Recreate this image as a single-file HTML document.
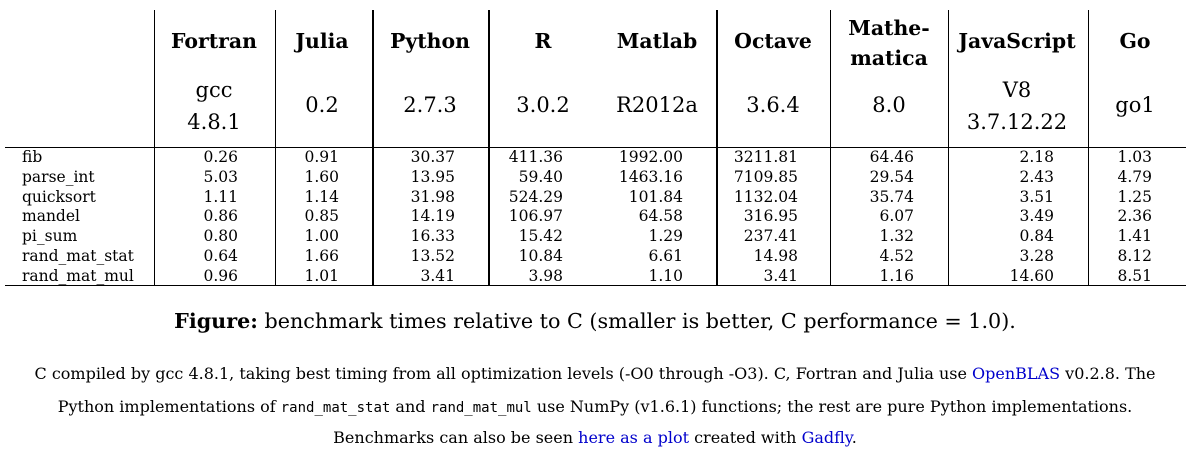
<!DOCTYPE html>
<html><head><meta charset="utf-8">
<style>
body{margin:0;width:1190px;height:452px;background:#fff;position:relative;overflow:hidden;font-family:"DejaVu Serif","Liberation Serif",serif;color:#000}
.a{position:absolute;white-space:nowrap}
.hd{font-weight:bold;font-size:20.4px;text-align:center;transform:translateX(-50%);line-height:30px}
.ver{font-size:21px;text-align:center;transform:translateX(-50%);line-height:32px}
.cell{font-size:15.5px;line-height:20px}
.v{text-align:right;transform:translateX(-100%)}
.vl{position:absolute;top:10px;height:276px;background:#000}
.hl{position:absolute;left:5px;width:1181px;height:1px;background:#000}
.p{font-size:16px;left:0;width:1190px;text-align:center}
.m{font-family:"DejaVu Sans Mono","Liberation Mono",monospace;font-size:14px}
a{color:#00c;text-decoration:none}
</style></head><body>
<div id="tbl"></div>
<div class="hl" style="top:147px"></div>
<div class="hl" style="top:285px"></div>
<div class="a p" style="top:309px;font-size:20.7px"><b>Figure:</b> benchmark times relative to C (smaller is better, C performance = 1.0).</div>
<div class="a p" style="top:364px">C compiled by gcc 4.8.1, taking best timing from all optimization levels (-O0 through -O3). C, Fortran and Julia use <a href="#">OpenBLAS</a> v0.2.8. The</div>
<div class="a p" style="top:397px">Python implementations of <span class="m">rand_mat_stat</span> and <span class="m">rand_mat_mul</span> use NumPy (v1.6.1) functions; the rest are pure Python implementations.</div>
<div class="a p" style="top:428px">Benchmarks can also be seen <a href="#">here as a plot</a> created with <a href="#">Gadfly</a>.</div>
<script>
const languages=["Fortran","Julia","Python","R","Matlab","Octave","Mathe-<br>matica","JavaScript","Go"];
const versions=["gcc<br>4.8.1","0.2","2.7.3","3.0.2","R2012a","3.6.4","8.0","V8<br>3.7.12.22","go1"];
const benchmarks=["fib","parse_int","quicksort","mandel","pi_sum","rand_mat_stat","rand_mat_mul"];
const fortran=["0.26","5.03","1.11","0.86","0.80","0.64","0.96"];
const julia=["0.91","1.60","1.14","0.85","1.00","1.66","1.01"];
const python=["30.37","13.95","31.98","14.19","16.33","13.52","3.41"];
const rlang=["411.36","59.40","524.29","106.97","15.42","10.84","3.98"];
const matlab=["1992.00","1463.16","101.84","64.58","1.29","6.61","1.10"];
const octave=["3211.81","7109.85","1132.04","316.95","237.41","14.98","3.41"];
const mathematica=["64.46","29.54","35.74","6.07","1.32","4.52","1.16"];
const javascript=["2.18","2.43","3.51","3.49","0.84","3.28","14.60"];
const golang=["1.03","4.79","1.25","2.36","1.41","8.12","8.51"];
const cols=[fortran,julia,python,rlang,matlab,octave,mathematica,javascript,golang];
const centers=[214,322,430,543,657,773,889,1017,1135];
const rights=[238,339,455,563,683,798,914,1054,1152];
const lines=[[154,1],[275,1],[372,2],[488,2],[716,2],[830,1],[948,1],[1088,1]];
const t=document.getElementById('tbl');
function mk(cls,html,x,y){const d=document.createElement('div');d.className='a '+cls;d.innerHTML=html;d.style.left=x+'px';d.style.top=y+'px';t.appendChild(d);return d;}
lines.forEach(l=>{const d=document.createElement('div');d.className='vl';d.style.left=l[0]+'px';d.style.width=l[1]+'px';


t.appendChild(d);});
languages.forEach((n,i)=>{const two=n.indexOf('<br>')>=0;const h=mk('hd',n,centers[i],two?13:26);


const vtwo=versions[i].indexOf('<br>')>=0;const v=mk('ver',versions[i],centers[i],vtwo?74:89);

});
benchmarks.forEach((b,r)=>{const y=147+r*19.8;const l=mk('cell',b,22,y);


cols.forEach((c,i)=>{const d=mk('cell v',c[r],rights[i],y);

});});
</script>
</body></html>
